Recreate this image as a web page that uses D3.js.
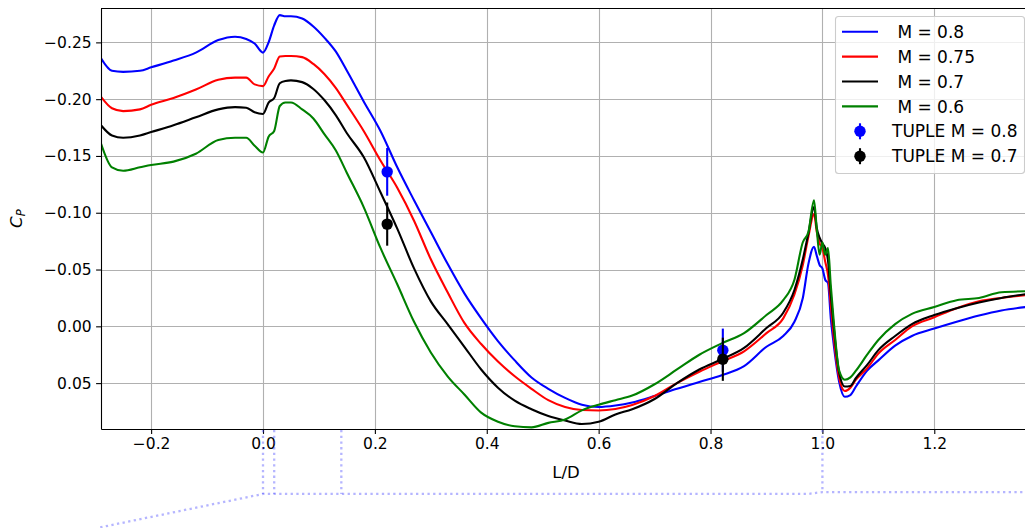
<!DOCTYPE html>
<html>
<head>
<meta charset="utf-8">
<script src="https://cdn.jsdelivr.net/npm/d3@7"></script>
<style>
  html, body { margin: 0; padding: 0; background: #fff; }
  svg { display: block; font-family: "DejaVu Sans", sans-serif; }
</style>
</head>
<body>
<svg id="chart" width="1025" height="528"></svg>
<script>
// Pressure coefficient along the wall, L/D stations
const xs = [-0.2896, -0.27, -0.25, -0.22, -0.2, -0.16, -0.12, -0.08, -0.05, -0.03,
  -0.015, 0.0, 0.01, 0.02, 0.03, 0.04, 0.05, 0.07, 0.09, 0.11,
  0.13, 0.15, 0.18, 0.21, 0.24, 0.27, 0.30, 0.33, 0.36, 0.39,
  0.42, 0.45, 0.48, 0.51, 0.54, 0.57, 0.60, 0.63, 0.66, 0.70,
  0.74, 0.78, 0.82, 0.86, 0.90, 0.93, 0.95, 0.965, 0.975, 0.985,
  0.99, 0.995, 1.0, 1.005, 1.01, 1.015, 1.02, 1.03, 1.04, 1.05,
  1.06, 1.08, 1.10, 1.13, 1.16, 1.20, 1.24, 1.28, 1.32, 1.373];

const cpM080 = [-0.236, -0.225, -0.224, -0.225, -0.228, -0.234, -0.241, -0.252, -0.255, -0.253,
  -0.249, -0.241, -0.250, -0.265, -0.274, -0.273, -0.273, -0.271, -0.264, -0.254,
  -0.242, -0.225, -0.198, -0.172, -0.140, -0.111, -0.083, -0.055, -0.029, -0.007,
  0.013, 0.030, 0.045, 0.055, 0.063, 0.069, 0.071, 0.0697, 0.0671, 0.0614,
  0.055, 0.049, 0.043, 0.035, 0.018, 0.0085, -0.004, -0.025, -0.055, -0.070,
  -0.062, -0.054, -0.051, -0.041, -0.038, -0.007, 0.015, 0.049, 0.062, 0.0605,
  0.053, 0.039, 0.030, 0.017, 0.0085, 0.002, -0.004, -0.0095, -0.014, -0.0175];

const cpM075 = [-0.202, -0.192, -0.1895, -0.191, -0.195, -0.201, -0.2085, -0.217, -0.219, -0.219,
  -0.213, -0.2115, -0.220, -0.227, -0.2375, -0.238, -0.238, -0.237, -0.231, -0.222,
  -0.210, -0.195, -0.172, -0.146, -0.122, -0.093, -0.059, -0.030, -0.003, 0.0156,
  0.031, 0.044, 0.055, 0.065, 0.071, 0.0737, 0.0741, 0.0728, 0.0693, 0.0614,
  0.050, 0.040, 0.031, 0.022, 0.006, -0.007, -0.028, -0.054, -0.079, -0.099,
  -0.083, -0.073, -0.069, -0.057, -0.045, -0.019, 0.008, 0.0455, 0.057, 0.054,
  0.047, 0.037, 0.024, 0.012, 0.000, -0.008, -0.016, -0.022, -0.025, -0.028];

const cpM070 = [-0.177, -0.168, -0.166, -0.168, -0.171, -0.177, -0.184, -0.191, -0.193, -0.1925,
  -0.1885, -0.187, -0.197, -0.201, -0.214, -0.216, -0.2165, -0.215, -0.209, -0.199,
  -0.186, -0.170, -0.149, -0.118, -0.086, -0.051, -0.022, -0.002, 0.018, 0.038,
  0.054, 0.0655, 0.073, 0.079, 0.083, 0.086, 0.084, 0.0776, 0.073, 0.064,
  0.050, 0.038, 0.029, 0.019, 0.0015, -0.012, -0.032, -0.059, -0.082, -0.105,
  -0.0865, -0.078, -0.073, -0.069, -0.058, -0.028, -0.001, 0.041, 0.053, 0.0525,
  0.0455, 0.034, 0.021, 0.0085, -0.002, -0.010, -0.016, -0.021, -0.025, -0.029];

const cpM060 = [-0.161, -0.140, -0.137, -0.140, -0.142, -0.145, -0.152, -0.164, -0.166, -0.166,
  -0.159, -0.153, -0.167, -0.172, -0.194, -0.197, -0.197, -0.191, -0.183, -0.169,
  -0.155, -0.135, -0.105, -0.069, -0.037, -0.004, 0.023, 0.044, 0.060, 0.076,
  0.084, 0.088, 0.089, 0.085, 0.082, 0.074, 0.069, 0.065, 0.061, 0.051,
  0.038, 0.025, 0.015, 0.006, -0.010, -0.023, -0.041, -0.074, -0.083, -0.111,
  -0.085, -0.063, -0.074, -0.063, -0.069, -0.036, -0.006, 0.039, 0.047, 0.045,
  0.039, 0.025, 0.012, -0.002, -0.011, -0.017, -0.023, -0.025, -0.030, -0.031];

// TUPLE measurements with error bars
const tupleX = [0.222, 0.822];
const tupleM080 = [-0.136, 0.021];
const tupleM080Err = [0.021, 0.019];
const tupleM070 = [-0.090, 0.029];
const tupleM070Err = [0.019, 0.019];

// Axis ticks
const xTicks = [-0.2, 0.0, 0.2, 0.4, 0.6, 0.8, 1.0, 1.2];
const yTicks = [-0.25, -0.20, -0.15, -0.10, -0.05, 0.00, 0.05];

// Geometry guide below the axes (L/D stations and wall outline)
const guideStations = [0.0, 0.02, 0.14, 1.0];
const guideOutline = [[-0.291, 0.177], [0.0, 0.1476], [0.974, 0.1476], [1.0, 0.1459], [1.373, 0.1459]];

const seriesNames = ["\u00a0M = 0.8", "\u00a0M = 0.75", "\u00a0M = 0.7", "\u00a0M = 0.6"];
const seriesColors = ["#0000ff", "#ff0000", "#000000", "#008000"];
const seriesValues = [cpM080, cpM075, cpM070, cpM060];
const tupleNames = ["TUPLE M = 0.8", "TUPLE M = 0.7"];
const tupleColors = ["#0000ff", "#000000"];

const margin = { left: 101, top: 8.3, right: 1031, bottom: 429 };
const svg = d3.select("#chart");

const x = d3.scaleLinear().domain([-0.2896, 1.3729]).range([margin.left, margin.right]);
const y = d3.scaleLinear().domain([-0.28, 0.0904]).range([margin.top, margin.bottom]);

svg.append("defs").append("clipPath").attr("id", "plotclip")
  .append("rect")
  .attr("x", margin.left).attr("y", margin.top)
  .attr("width", margin.right - margin.left).attr("height", margin.bottom - margin.top);

// grid
const grid = svg.append("g").attr("stroke", "#b0b0b0").attr("stroke-width", 1.1);
grid.selectAll("line.gx").data(xTicks).join("line")
  .attr("x1", d => Math.round(x(d)) + 0.5).attr("x2", d => Math.round(x(d)) + 0.5)
  .attr("y1", margin.top).attr("y2", margin.bottom);
grid.selectAll("line.gy").data(yTicks).join("line")
  .attr("y1", d => Math.round(y(d)) + 0.5).attr("y2", d => Math.round(y(d)) + 0.5)
  .attr("x1", margin.left).attr("x2", margin.right);

// curves
const line = d3.line().x(d => x(d[0])).y(d => y(d[1])).curve(d3.curveMonotoneX);
const curves = svg.append("g").attr("clip-path", "url(#plotclip)");
seriesValues.forEach((vals, i) => {
  curves.append("path")
    .datum(xs.map((xv, j) => [xv, vals[j]]))
    .attr("fill", "none")
    .attr("stroke", seriesColors[i])
    .attr("stroke-width", 2.1)
    .attr("stroke-linejoin", "round")
    .attr("d", line);
});

// TUPLE points with error bars
[[tupleM080, tupleM080Err], [tupleM070, tupleM070Err]].forEach(([vals, errs], i) => {
  const g = svg.append("g").attr("fill", tupleColors[i]).attr("stroke", tupleColors[i]);
  tupleX.forEach((xv, j) => {
    g.append("line")
      .attr("x1", x(xv)).attr("x2", x(xv))
      .attr("y1", y(vals[j] - errs[j])).attr("y2", y(vals[j] + errs[j]))
      .attr("stroke-width", 2.1);
    g.append("circle").attr("cx", x(xv)).attr("cy", y(vals[j])).attr("r", 5.7).attr("stroke", "none");
  });
});

// axes
const fmtX = d3.format(".1f");
const fmtY = d3.format(".2f");
const xAxis = svg.append("g")
  .attr("transform", `translate(0,${margin.bottom})`)
  .call(d3.axisBottom(x).tickValues(xTicks).tickFormat(fmtX).tickSizeInner(4.9).tickSizeOuter(0).tickPadding(4.5));
const yAxis = svg.append("g")
  .attr("transform", `translate(${margin.left},0)`)
  .call(d3.axisLeft(y).tickValues(yTicks).tickFormat(fmtY).tickSizeInner(4.9).tickSizeOuter(0).tickPadding(4.5));
[xAxis, yAxis].forEach(a => {
  a.attr("font-family", "DejaVu Sans, sans-serif").attr("font-size", 15.5);
  a.selectAll("text").attr("fill", "#000");
  a.selectAll("line").attr("stroke", "#000").attr("stroke-width", 1.1);
  a.select(".domain").attr("stroke", "#000").attr("stroke-width", 1.1);
});
// top spine
svg.append("line")
  .attr("x1", margin.left).attr("x2", margin.right)
  .attr("y1", Math.round(margin.top) + 0.5).attr("y2", Math.round(margin.top) + 0.5)
  .attr("stroke", "#000").attr("stroke-width", 1.1);

// axis labels
svg.append("text")
  .attr("x", (margin.left + margin.right) / 2).attr("y", 472).attr("dy", "0.35em")
  .attr("text-anchor", "middle").attr("font-size", 16.5).attr("fill", "#000")
  .text("L/D");
const yl = svg.append("text")
  .attr("transform", `translate(22,${(margin.top + margin.bottom) / 2}) rotate(-90)`)
  .attr("text-anchor", "middle").attr("font-size", 16.5).attr("fill", "#000");
yl.append("tspan").attr("font-style", "italic").text("C");
yl.append("tspan").attr("font-style", "italic").attr("font-size", 11.5).attr("dy", 3).text("P");

// guide lines below the axes
const guide = svg.append("g")
  .attr("stroke", "rgba(60,60,255,0.38)").attr("stroke-width", 2.3)
  .attr("stroke-dasharray", "2.3,3.4").attr("fill", "none");
guide.append("path")
  .attr("d", d3.line().x(d => x(d[0])).y(d => y(d[1]))(guideOutline));
const outlineAt = xv => {
  for (let k = 1; k < guideOutline.length; k++) {
    const [x0, y0] = guideOutline[k - 1], [x1, y1] = guideOutline[k];
    if (xv <= x1) return y0 + (y1 - y0) * (xv - x0) / (x1 - x0);
  }
  return guideOutline[guideOutline.length - 1][1];
};
guideStations.forEach(s => {
  guide.append("line")
    .attr("x1", x(s)).attr("x2", x(s))
    .attr("y1", margin.bottom + 1).attr("y2", y(outlineAt(s)));
});

// legend
const lg = svg.append("g");
lg.append("rect")
  .attr("x", 835.5).attr("y", 16.5).attr("width", 189).attr("height", 157)
  .attr("rx", 3).attr("fill", "rgba(255,255,255,0.8)")
  .attr("stroke", "#cccccc").attr("stroke-width", 1.1);
const rowY = i => 31.7 + 24.9 * i;
seriesNames.forEach((name, i) => {
  lg.append("line")
    .attr("x1", 842).attr("x2", 878).attr("y1", rowY(i)).attr("y2", rowY(i))
    .attr("stroke", seriesColors[i]).attr("stroke-width", 2.1);
  lg.append("text")
    .attr("x", 892).attr("y", rowY(i)).attr("dy", "0.36em")
    .attr("font-size", 17).attr("fill", "#000")
    .text(name);
});
tupleNames.forEach((name, i) => {
  const yy = rowY(i + 4);
  lg.append("line")
    .attr("x1", 860).attr("x2", 860).attr("y1", yy - 8).attr("y2", yy + 8)
    .attr("stroke", tupleColors[i]).attr("stroke-width", 2.1);
  lg.append("circle").attr("cx", 860).attr("cy", yy).attr("r", 5.7).attr("fill", tupleColors[i]);
  lg.append("text")
    .attr("x", 892).attr("y", yy).attr("dy", "0.36em")
    .attr("font-size", 17).attr("fill", "#000")
    .text(name);
});
</script>
</body>
</html>
